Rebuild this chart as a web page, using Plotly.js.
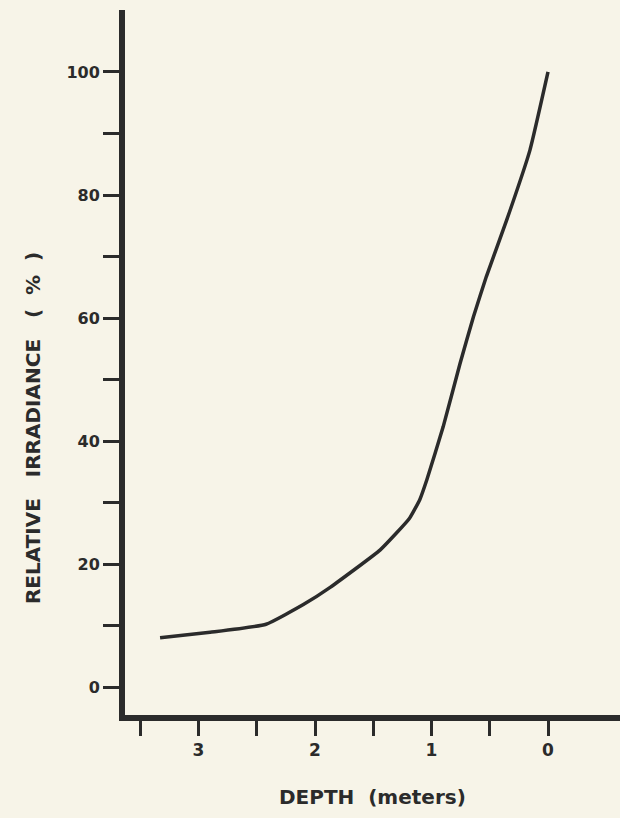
<!DOCTYPE html>
<html>
<head>
<meta charset="utf-8">
<script src="https://cdn.plot.ly/plotly-3.0.1.min.js"></script>
<style>
  html, body { margin: 0; padding: 0; background: #f7f4e8; }
  #chart { width: 620px; height: 818px; }
</style>
</head>
<body>
<div id="chart"></div>
<script>
// Depth (meters) and relative irradiance (%)
const depth = [3.33, 2.9, 2.42, 2.1, 1.87, 1.44, 1.19, 1.10, 1.04, 0.90, 0.755, 0.64, 0.53, 0.355, 0.155, 0.0];
const irradiance = [8.0, 8.9, 10.2, 13.4, 16.2, 22.3, 27.4, 30.5, 33.7, 42.3, 52.6, 60.2, 66.7, 75.9, 87.3, 100];

const xTickVals = [3.5, 3, 2.5, 2, 1.5, 1, 0.5, 0];
const xTickText = ["", "3", "", "2", "", "1", "", "0"];
const yTickVals = [0, 10, 20, 30, 40, 50, 60, 70, 80, 90, 100];
const yTickText = ["0", "", "20", "", "40", "", "60", "", "80", "", "100"];

const xTitle = "DEPTH  (meters)";
const yTitle = "RELATIVE   IRRADIANCE   (  %  )";

const ink = "#2b2b2b";
const fontFam = "DejaVu Sans, Liberation Sans, sans-serif";

const trace = {
  x: depth,
  y: irradiance,
  type: "scatter",
  mode: "lines",
  line: { color: ink, width: 3.5, shape: "spline", smoothing: 0.4 },
  hoverinfo: "skip"
};

const layout = {
  width: 620,
  height: 818,
  paper_bgcolor: "#f7f4e8",
  plot_bgcolor: "#f7f4e8",
  margin: { l: 125, r: 0, t: 10, b: 103 },
  showlegend: false,
  font: { family: fontFam, color: ink },
  xaxis: {
    range: [3.631, -0.618],
    showgrid: false,
    zeroline: false,
    showline: true,
    linecolor: ink,
    linewidth: 6,
    ticks: "outside",
    ticklen: 15,
    tickwidth: 3,
    tickcolor: ink,
    tickmode: "array",
    tickvals: xTickVals,
    ticktext: xTickText,
    tickfont: { family: fontFam, size: 17, color: ink, weight: "bold" }
  },
  yaxis: {
    range: [-4.55, 110.08],
    showgrid: false,
    zeroline: false,
    showline: true,
    linecolor: ink,
    linewidth: 6,
    ticks: "outside",
    ticklen: 16,
    tickwidth: 3,
    tickcolor: ink,
    tickmode: "array",
    tickvals: yTickVals,
    ticktext: yTickText,
    tickfont: { family: fontFam, size: 16, color: ink, weight: "bold" }
  },
  annotations: [
    {
      text: "<b>" + xTitle + "</b>",
      xref: "paper", yref: "paper",
      x: 0.5, y: 0,
      xanchor: "center", yanchor: "middle",
      yshift: -82,
      showarrow: false,
      font: { family: fontFam, size: 20, color: ink }
    },
    {
      text: "<b>" + yTitle + "</b>",
      xref: "paper", yref: "paper",
      x: 0, y: 0.407,
      xanchor: "center", yanchor: "middle",
      xshift: -92,
      textangle: -90,
      showarrow: false,
      font: { family: fontFam, size: 20, color: ink }
    }
  ]
};

Plotly.newPlot("chart", [trace], layout, { displayModeBar: false, staticPlot: true });
</script>
</body>
</html>
